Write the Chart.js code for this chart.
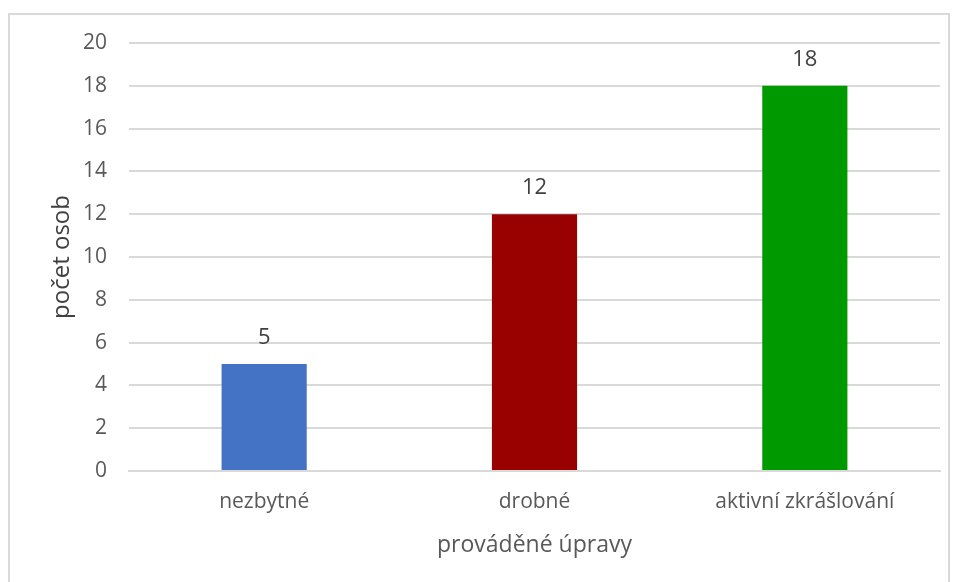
<!DOCTYPE html>
<html>
<head>
<meta charset="utf-8">
<script src="https://cdn.jsdelivr.net/npm/chart.js@4"></script>
<style>
  html, body { margin: 0; padding: 0; background: #fff; overflow: hidden; }
  #wrap { position: absolute; left: 0; top: 0; width: 954px; height: 582px; }
  #frame { position: absolute; left: 8px; top: 13px; width: 942px; height: 600px; border: 2px solid #d9d9d9; box-sizing: border-box; }
</style>
</head>
<body>
<div id="wrap">
  <div id="frame"></div>
  <canvas id="barChart" width="954" height="582"></canvas>
</div>
<script>
// Úpravy – počet osob podle druhu úprav
const categories = ['nezbytné', 'drobné', 'aktivní zkrášlování'];
const counts = [5, 12, 18];
const barColors = ['#4472c4', '#990000', '#009900'];
const yTicks = [0, 2, 4, 6, 8, 10, 12, 14, 16, 18, 20];

const FONT = '"Open Sans", "Noto Sans", sans-serif';

// value labels above each bar
const valueLabels = {
  id: 'valueLabels',
  afterDatasetsDraw(chart) {
    const ctx = chart.ctx;
    const meta = chart.getDatasetMeta(0);
    ctx.save();
    ctx.font = '22px ' + FONT;
    ctx.fillStyle = '#404040';
    ctx.textAlign = 'center';
    ctx.textBaseline = 'middle';
    meta.data.forEach((bar, i) => {
      ctx.fillText(String(counts[i]), bar.x, bar.y - 26);
    });
    ctx.restore();
  }
};

new Chart(document.getElementById('barChart'), {
  type: 'bar',
  data: {
    labels: categories,
    datasets: [{
      data: counts,
      backgroundColor: barColors,
      borderWidth: 0,
      categoryPercentage: 1,
      barPercentage: 0.315,
    }]
  },
  options: {
    responsive: false,
    animation: false,
    layout: { padding: { left: 36, right: 14, top: 43, bottom: 23 } },
    plugins: {
      legend: { display: false },
      tooltip: { enabled: false }
    },
    scales: {
      x: {
        afterFit(axis) { axis.height = 88; },
        grid: { display: false, drawTicks: false },
        border: { color: '#d9d9d9', width: 2 },
        ticks: { color: '#595959', font: { family: FONT, size: 21 }, padding: 18 },
        title: {
          display: true,
          text: 'prováděné úpravy',
          color: '#595959',
          font: { family: FONT, size: 23 },
          padding: 0
        }
      },
      y: {
        min: 0,
        max: 20,
        afterFit(axis) { axis.width = 93; },
        afterBuildTicks(axis) { axis.ticks = yTicks.map(v => ({ value: v })); },
        grid: { color: '#d9d9d9', lineWidth: 2, drawTicks: false },
        border: { display: false },
        ticks: { color: '#595959', font: { family: FONT, size: 21 }, padding: 22 },
        title: {
          display: true,
          text: 'počet osob',
          color: '#404040',
          font: { family: FONT, size: 24 },
          padding: { top: 12, bottom: 0 }
        }
      }
    }
  },
  plugins: [valueLabels]
});
</script>
</body>
</html>
